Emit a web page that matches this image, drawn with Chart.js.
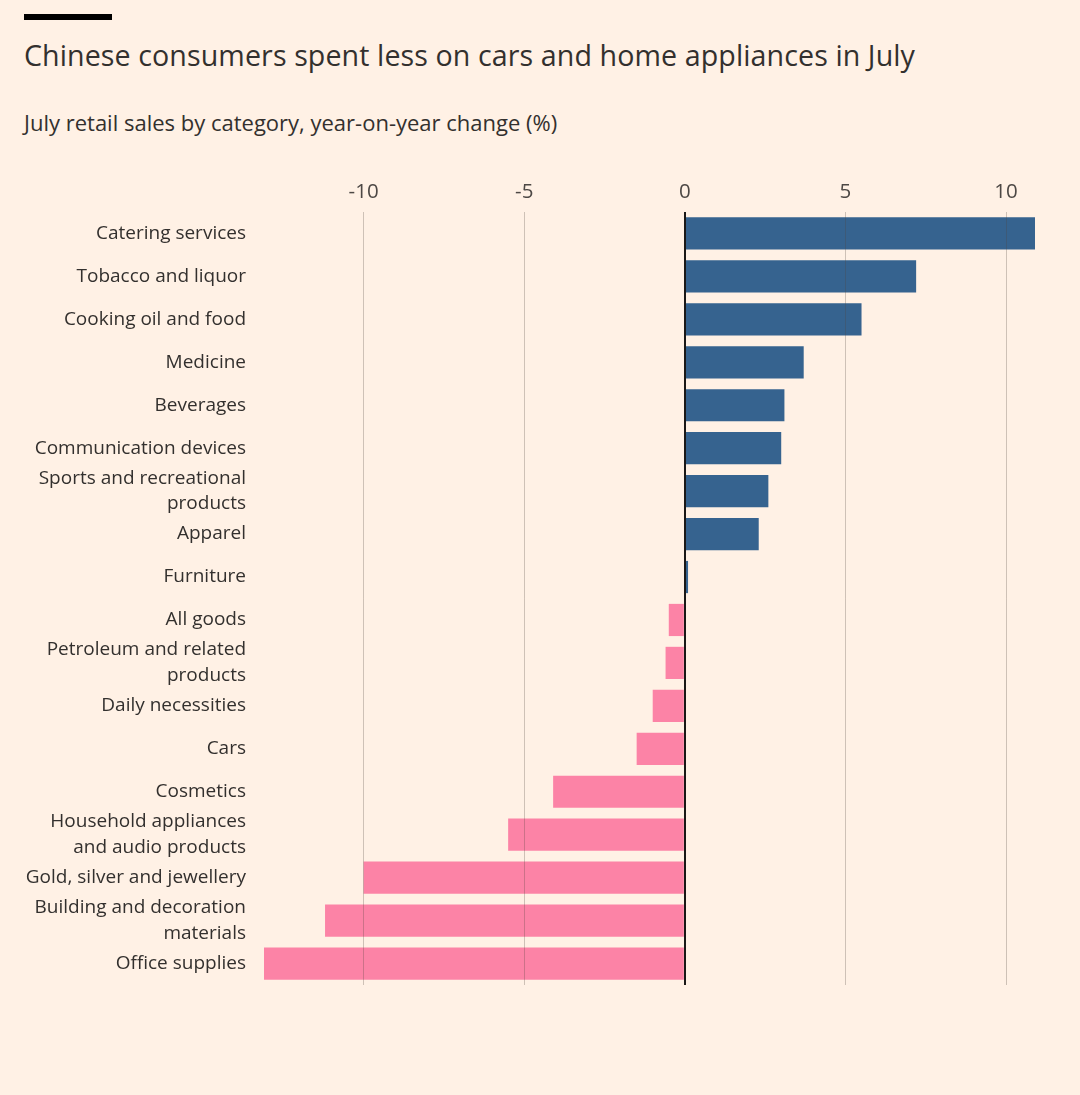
<!DOCTYPE html>
<html>
<head>
<meta charset="utf-8">
<script src="https://cdn.jsdelivr.net/npm/chart.js@4"></script>
<style>
  html, body { margin: 0; padding: 0; background: #fff1e5; }
  body { width: 1080px; height: 1095px; position: relative; overflow: hidden; font-family: "Open Sans", sans-serif; color: #33302e; }
  .bar { position: absolute; left: 24px; top: 14px; width: 88px; height: 6px; background: #000; }
  h1 { position: absolute; left: 24px; top: 35px; margin: 0; font-weight: 400; font-size: 28.6px; letter-spacing: 0.1px; }
  h2 { position: absolute; left: 24px; top: 107px; margin: 0; font-weight: 400; font-size: 22px; }
  #chart { position: absolute; left: 0; top: 0; }
</style>
</head>
<body>
<div class="bar"></div>
<h1>Chinese consumers spent less on cars and home appliances in July</h1>
<h2>July retail sales by category, year-on-year change (%)</h2>
<canvas id="chart" width="1080" height="1095"></canvas>
<script>
// categories and their July y-o-y change (%)
const categories = [
  'Catering services',
  'Tobacco and liquor',
  'Cooking oil and food',
  'Medicine',
  'Beverages',
  'Communication devices',
  ['Sports and recreational', 'products'],
  'Apparel',
  'Furniture',
  'All goods',
  ['Petroleum and related', 'products'],
  'Daily necessities',
  'Cars',
  'Cosmetics',
  ['Household appliances', 'and audio products'],
  'Gold, silver and jewellery',
  ['Building and decoration', 'materials'],
  'Office supplies'
];
const changes = [10.9, 7.2, 5.5, 3.7, 3.1, 3.0, 2.6, 2.3, 0.1, -0.5, -0.6, -1.0, -1.5, -4.1, -5.5, -10.0, -11.2, -13.1];
const xTicks = [-10, -5, 0, 5, 10];

const blue = '#36638f';
const pink = '#fc83a6';

new Chart(document.getElementById('chart'), {
  type: 'bar',
  data: {
    labels: categories,
    datasets: [{
      data: changes,
      backgroundColor: changes.map(v => v >= 0 ? blue : pink),
      borderWidth: 0,
      barPercentage: 0.75,
      categoryPercentage: 1
    }]
  },
  options: {
    indexAxis: 'y',
    responsive: false,
    animation: false,
    layout: { padding: { top: 162, right: 45, bottom: 110, left: 0 } },
    plugins: { legend: { display: false }, tooltip: { enabled: false } },
    scales: {
      x: {
        position: 'top',
        min: -13.1,
        max: 10.9,
        afterBuildTicks: s => { s.ticks = xTicks.map(v => ({ value: v })); },
        afterFit: s => { s.height = 50; },
        border: { display: false },
        grid: {
          z: 1,
          drawTicks: false,
          color: c => c.tick && c.tick.value === 0 ? '#1a1817' : 'rgba(80,70,60,0.28)',
          lineWidth: c => c.tick && c.tick.value === 0 ? 2 : 1
        },
        ticks: {
          padding: 8,
          color: '#4d4845',
          font: { family: 'Open Sans', size: 20.5 }
        }
      },
      y: {
        afterFit: s => { s.width = 264; },
        border: { display: false },
        grid: { display: false, drawTicks: false },
        ticks: {
          autoSkip: false,
          padding: 18,
          color: '#33302e',
          font: { family: 'Open Sans', size: 19, lineHeight: 1.35 }
        }
      }
    }
  }
});
</script>
</body>
</html>
